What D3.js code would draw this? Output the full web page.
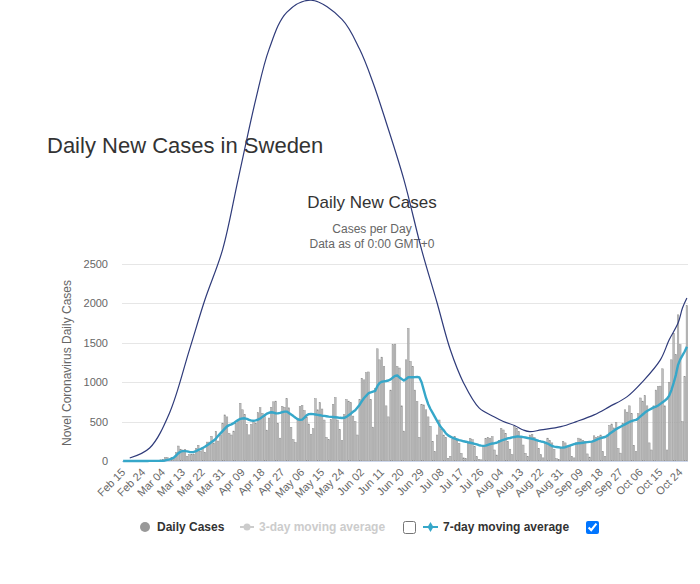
<!DOCTYPE html>
<html><head><meta charset="utf-8">
<script src="https://cdn.jsdelivr.net/npm/d3@7"></script>
<style>
html,body{margin:0;padding:0;background:#fff;}
body{width:700px;height:584px;overflow:hidden;position:relative;font-family:"Liberation Sans",Arial,sans-serif;}
svg{position:absolute;left:0;top:0;}
input.cb{position:absolute;margin:0;width:13px;height:13px;}
</style></head><body>
<svg id="chart" width="700" height="584"></svg>
<input type="checkbox" class="cb" style="left:403px;top:521px;">
<input type="checkbox" class="cb" checked style="left:586px;top:521px;">
<script>
// ---------- DATA ----------
const firstDay = new Date(2020, 1, 15);
const dayAfterLast = new Date(2020, 9, 28);
const categories = d3.timeDay.range(firstDay, dayAfterLast).map(d3.timeFormat("%b %d"));

const tickLabels = ["Feb 15","Feb 24","Mar 04","Mar 13","Mar 22","Mar 31","Apr 09","Apr 18","Apr 27",
  "May 06","May 15","May 24","Jun 02","Jun 11","Jun 20","Jun 29","Jul 08","Jul 17","Jul 26",
  "Aug 04","Aug 13","Aug 22","Aug 31","Sep 09","Sep 18","Sep 27","Oct 06","Oct 15","Oct 24"];

const yTicks = [0, 500, 1000, 1500, 2000, 2500];

const dailyCases = [
  0,0,0,0,0,0,0,
  0,0,0,0,1,5,5,
  1,1,1,15,22,42,43,
  24,42,45,107,190,150,140,
  147,61,81,87,89,160,200,
  124,171,112,240,240,314,229,
  378,253,328,480,585,560,350,
  330,380,480,500,733,650,590,
  466,332,465,497,482,613,676,
  606,563,392,545,682,751,760,
  480,290,695,681,790,675,428,
  270,235,530,690,705,640,560,
  470,340,410,790,650,740,660,
  520,300,270,530,720,805,520,
  400,260,590,780,760,740,570,
  500,330,780,1050,1030,1120,1130,
  780,430,920,1424,1284,1318,1200,
  700,560,900,1475,1483,1200,1180,
  700,380,1284,1682,1263,1200,900,
  754,300,720,712,650,560,440,
  250,120,330,520,400,330,300,
  34,60,280,310,267,224,97,
  40,30,224,288,270,182,55,
  20,15,190,288,300,290,309,
  140,76,260,415,394,352,250,
  150,80,436,415,373,309,203,
  97,60,330,340,300,267,161,
  80,40,220,290,260,230,150,
  30,20,160,250,230,190,200,
  60,40,230,290,280,260,250,
  90,50,250,320,300,310,330,
  120,60,330,450,470,420,490,
  160,100,480,650,620,700,600,
  200,120,600,800,760,830,700,
  230,140,700,900,945,950,1170,
  700,140,1000,1284,1620,1350,1855,
  1475,500,1070,1970
];

const movingAvg7 = [
  0,0,0,0,0,0,0,
  0,0,0,0,0,1,1,
  1,1,1,2,3,7,14,
  20,30,45,70,100,118,125,
  125,122,115,112,115,125,140,
  150,165,180,200,220,240,260,
  285,320,350,380,410,440,455,
  465,480,500,520,535,540,542,
  535,522,512,510,515,525,540,
  560,580,600,612,619,615,606,
  605,610,620,627,627,610,590,
  570,548,530,522,525,550,580,
  595,597,595,590,585,580,575,
  572,568,563,560,558,555,552,
  548,545,548,560,580,600,625,
  645,680,715,760,800,830,860,
  870,880,890,950,990,1005,1010,
  1015,1021,1035,1059,1080,1085,1060,
  1040,1021,1040,1063,1065,1063,1065,
  1068,1060,1000,900,800,720,660,
  610,560,510,460,420,390,350,
  325,310,295,285,275,265,258,
  250,245,238,232,225,218,210,
  200,195,192,195,205,215,222,
  226,232,245,258,268,278,288,
  292,300,305,310,310,308,303,
  298,292,288,282,275,265,255,
  248,243,232,222,205,190,182,
  178,174,170,172,175,185,195,
  205,215,222,225,228,232,236,
  240,243,246,255,268,280,290,
  298,305,320,345,365,385,405,
  420,435,450,465,480,495,505,
  515,522,540,565,590,615,635,
  650,665,680,690,705,725,745,
  765,790,830,900,990,1090,1220,
  1290,1340,1390,1450
];

// stray smooth curve drawn over the chart
const trendDates = ["Feb 18","Feb 27","Mar 07","Mar 16","Mar 23","Mar 31","Apr 07","Apr 15","Apr 21","Apr 29",
  "May 10","May 24","Jun 01","Jun 07","Jun 13","Jun 21","Jun 29","Jul 06","Jul 12","Jul 18","Jul 25",
  "Aug 01","Aug 05","Aug 10","Aug 14","Aug 17","Aug 22","Aug 31","Sep 07","Sep 15","Sep 22","Sep 30",
  "Oct 07","Oct 15","Oct 19","Oct 23","Oct 25","Oct 27"];
const trendValues = [38,165,610,1411,2046,2682,3571,4588,5224,5694,
  5847,5605,5224,4804,4296,3571,2682,2008,1411,991,674,
  559,502,451,394,372,394,436,500,585,690,817,
  1008,1284,1538,1750,1941,2068];

// ---------- CHART ----------
const svg = d3.select("#chart");
const L = 122, R = 688, B = 461, T = 264;
const x = d3.scaleBand().domain(categories).range([L, R]).padding(0);
const y = d3.scaleLinear().domain([0, 2500]).range([B, T]);
const yAxisScale = y.copy().interpolate(d3.interpolateRound);
const cx = d => x(d) + x.bandwidth() / 2;

// titles
svg.append("text").attr("x", 47).attr("y", 153).attr("fill", "#333")
  .style("font-size", "22px").text("Daily New Cases in Sweden");
svg.append("text").attr("x", 372).attr("y", 208).attr("text-anchor", "middle").attr("fill", "#333")
  .style("font-size", "17px").text("Daily New Cases");
svg.append("text").attr("x", 372).attr("y", 233).attr("text-anchor", "middle").attr("fill", "#666")
  .style("font-size", "12px").text("Cases per Day");
svg.append("text").attr("x", 372).attr("y", 248).attr("text-anchor", "middle").attr("fill", "#666")
  .style("font-size", "12px").text("Data as of 0:00 GMT+0");

// y axis with gridlines
const gy = svg.append("g").attr("transform", `translate(${L},0)`)
  .call(d3.axisLeft(yAxisScale).tickValues(yTicks).tickSize(-(R - L)).tickPadding(14).tickFormat(d3.format("d")));
gy.select(".domain").remove();
gy.selectAll(".tick line").attr("stroke", "#e6e6e6");
gy.selectAll(".tick text").attr("fill", "#666").style("font-size", "11px")
  .style("font-family", '"Liberation Sans",Arial,sans-serif');

svg.append("text").attr("transform", "translate(71,363) rotate(-90)").attr("text-anchor", "middle")
  .attr("fill", "#666").style("font-size", "12px").text("Novel Coronavirus Daily Cases");

// bars
const barW = 1.6;
svg.append("g").selectAll("rect").data(dailyCases).join("rect")
  .attr("x", (d, i) => cx(categories[i]) - barW / 2)
  .attr("y", d => y(d))
  .attr("width", barW)
  .attr("height", d => B - y(d))
  .attr("fill", "#bdbdbd")
  .attr("stroke", "#8e8e8e")
  .attr("stroke-width", 0.45);

// x axis
svg.append("line").attr("x1", L).attr("x2", R).attr("y1", B + 0.5).attr("y2", B + 0.5).attr("stroke", "#ccd6eb");
const gx = svg.append("g").attr("transform", `translate(0,${B})`)
  .call(d3.axisBottom(x).tickValues(tickLabels).tickSize(0));
gx.select(".domain").remove();
gx.selectAll(".tick text")
  .attr("text-anchor", "end").attr("x", null).attr("y", null).attr("dy", null)
  .attr("transform", "translate(3,12) rotate(-45)")
  .attr("fill", "#666").style("font-size", "11px")
  .style("font-family", '"Liberation Sans",Arial,sans-serif');

// 7-day moving average
const teal = "#36a7c9";
svg.append("path").datum(movingAvg7)
  .attr("d", d3.line().x((d, i) => cx(categories[i])).y(d => y(d)))
  .attr("fill", "none").attr("stroke", teal).attr("stroke-width", 2.4).attr("stroke-linejoin", "round");

// stray trend curve
svg.append("path").datum(trendDates.map((dt, i) => [cx(dt), y(trendValues[i])]))
  .attr("d", d3.line().curve(d3.curveCatmullRom.alpha(0.5)))
  .attr("fill", "none").attr("stroke", "#2f3b7a").attr("stroke-width", 1.2);

// legend
const lg = svg.append("g").style("font-size", "12px").style("font-weight", "bold");
lg.append("circle").attr("cx", 145).attr("cy", 527).attr("r", 5).attr("fill", "#999");
lg.append("text").attr("x", 157).attr("y", 531).attr("fill", "#333").text("Daily Cases");
lg.append("line").attr("x1", 240).attr("x2", 254).attr("y1", 527).attr("y2", 527).attr("stroke", "#ccc").attr("stroke-width", 2);
lg.append("circle").attr("cx", 247).attr("cy", 527).attr("r", 3.5).attr("fill", "#ccc");
lg.append("text").attr("x", 259).attr("y", 531).attr("fill", "#ccc").text("3-day moving average");
lg.append("line").attr("x1", 423).attr("x2", 438).attr("y1", 527).attr("y2", 527).attr("stroke", teal).attr("stroke-width", 2);
lg.append("path").attr("d", d3.symbol(d3.symbolDiamond, 30)()).attr("transform", "translate(430.5,527)").attr("fill", teal);
lg.append("text").attr("x", 443).attr("y", 531).attr("fill", "#333").text("7-day moving average");
</script>
</body></html>
